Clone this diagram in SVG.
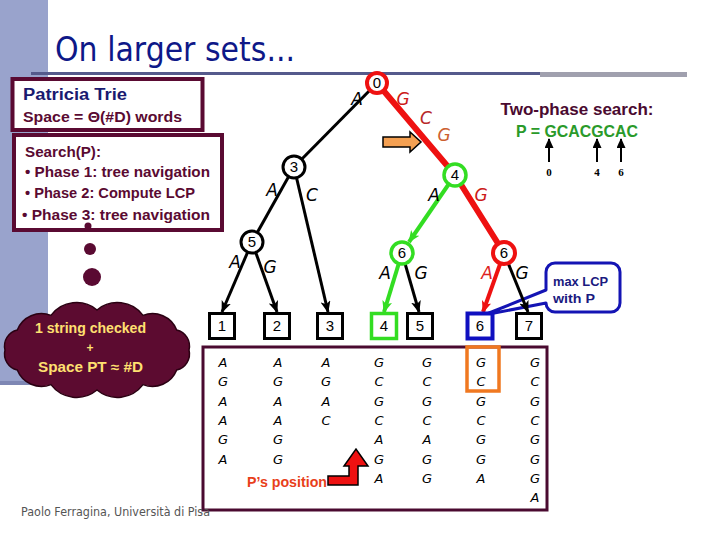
<svg xmlns="http://www.w3.org/2000/svg" width="720" height="540" viewBox="0 0 720 540">
<defs>
<style>
.t{font-family:"Liberation Sans",Arial,sans-serif;font-weight:bold}
.lbl{font-family:"DejaVu Sans",sans-serif;font-style:italic;font-size:17px;text-anchor:middle}
.col{font-family:"DejaVu Sans",sans-serif;font-style:italic;font-size:13px;text-anchor:middle;fill:#000}
.num{font-family:"Liberation Sans",Arial,sans-serif;font-size:15px;text-anchor:middle}
.leaf{fill:#fff;stroke:#000;stroke-width:3}
.node{fill:#fff;stroke:#000;stroke-width:3}
.blk{stroke:#000;stroke-width:3;fill:none}
.maroon{fill:#5A0A32}
</style>
<marker id="ak" markerUnits="userSpaceOnUse" markerWidth="12" markerHeight="10" refX="11" refY="5" orient="auto"><path d="M0,0 L12,5 L0,10 L3,5 z" fill="#000"/></marker>
<marker id="ag" markerUnits="userSpaceOnUse" markerWidth="12" markerHeight="10" refX="11" refY="5" orient="auto"><path d="M0,0 L12,5 L0,10 L3,5 z" fill="#33DD22"/></marker>
<marker id="ar" markerUnits="userSpaceOnUse" markerWidth="12" markerHeight="10" refX="11" refY="5" orient="auto"><path d="M0,0 L12,5 L0,10 L3,5 z" fill="#EE1111"/></marker>
<marker id="ap" markerUnits="userSpaceOnUse" markerWidth="10" markerHeight="9" refX="9" refY="4.5" orient="auto"><path d="M0,0 L10,4.5 L0,9 z" fill="#000"/></marker>
</defs>
<rect width="720" height="540" fill="#fff"/>
<!-- slide decoration -->
<g id="deco">
<rect x="0" y="0" width="48" height="385" fill="#99A3CC"/>
<rect x="0" y="381" width="60" height="4" fill="#7E87B4"/>
<rect x="31" y="72" width="510" height="3" fill="#555A8C"/>
<rect x="540" y="72" width="147" height="5" fill="#A0A0AE"/>
<text x="55" y="61" font-family="DejaVu Sans,sans-serif" font-size="34" fill="#0E1888" textLength="240" lengthAdjust="spacingAndGlyphs">On larger sets...</text>
</g>
<!-- Patricia Trie box -->
<g id="pt-box">
<rect x="12.5" y="79" width="190" height="51" fill="#fff" stroke="#5A0A32" stroke-width="4"/>
<text class="t" x="23" y="100" font-size="16" fill="#1A1A70" textLength="104" lengthAdjust="spacingAndGlyphs">Patricia Trie</text>
<text class="t" x="23" y="122" font-size="14" fill="#5A0A32" textLength="159" lengthAdjust="spacingAndGlyphs">Space = Θ(#D) words</text>
</g>
<!-- Search box -->
<g id="search-box">
<rect x="14" y="135" width="208" height="95" fill="#fff" stroke="#5A0A32" stroke-width="4"/>
<text class="t" x="25" y="157" font-size="15" fill="#5A0A32" textLength="76" lengthAdjust="spacingAndGlyphs">Search(P):</text>
<text class="t" x="25" y="177" font-size="15" fill="#5A0A32" textLength="185" lengthAdjust="spacingAndGlyphs">• Phase 1: tree navigation</text>
<text class="t" x="25" y="198" font-size="15" fill="#5A0A32" textLength="170" lengthAdjust="spacingAndGlyphs">• Phase 2: Compute LCP</text>
<text class="t" x="22" y="220" font-size="15" fill="#5A0A32" textLength="188" lengthAdjust="spacingAndGlyphs">• Phase 3: tree navigation</text>
</g>
<!-- thought cloud -->
<g id="cloud">
<circle cx="88" cy="226" r="3.5" class="maroon"/>
<circle cx="90" cy="249" r="6" class="maroon"/>
<circle cx="92" cy="277" r="9" class="maroon"/>
<path d="M5,350 A16.5,16.5 0 0 1 17.3,330 A26,26 0 0 1 51,315.4 A32,32 0 0 1 97,310 A32,32 0 0 1 143,315.4 A26,26 0 0 1 176.7,330 A16.5,16.5 0 0 1 189,350 A16.5,16.5 0 0 1 176.7,370 A26,26 0 0 1 143,384.6 A32,32 0 0 1 97,390 A32,32 0 0 1 51,384.6 A26,26 0 0 1 17.3,370 A16.5,16.5 0 0 1 5,350 Z" fill="#5C0B30" stroke="#2A0012" stroke-width="1.5"/>
<text class="t" x="35" y="333" font-size="14" fill="#FFE070" textLength="111" lengthAdjust="spacingAndGlyphs">1 string checked</text>
<text class="t" x="90" y="352" font-size="12" fill="#FFE070" text-anchor="middle">+</text>
<text class="t" x="38" y="372" font-size="14" fill="#FFE070" textLength="105" lengthAdjust="spacingAndGlyphs">Space PT ≈ #D</text>
</g>
<!-- two-phase search -->
<g id="two-phase">
<text class="t" x="577" y="115" font-size="17" fill="#4A0A30" text-anchor="middle" textLength="153" lengthAdjust="spacingAndGlyphs">Two-phase search:</text>
<text class="t" x="516" y="137" font-size="17" fill="#2A9A2A" textLength="122" lengthAdjust="spacingAndGlyphs">P = GCACGCAC</text>
<line x1="549" y1="162" x2="549" y2="139" stroke="#000" stroke-width="2" marker-end="url(#ap)"/>
<line x1="597" y1="162" x2="597" y2="139" stroke="#000" stroke-width="2" marker-end="url(#ap)"/>
<line x1="621" y1="162" x2="621" y2="139" stroke="#000" stroke-width="2" marker-end="url(#ap)"/>
<text x="549" y="176" font-family="Liberation Serif,serif" font-weight="bold" font-size="11" text-anchor="middle">0</text>
<text x="597" y="176" font-family="Liberation Serif,serif" font-weight="bold" font-size="11" text-anchor="middle">4</text>
<text x="621" y="176" font-family="Liberation Serif,serif" font-weight="bold" font-size="11" text-anchor="middle">6</text>
</g>
<!-- callout -->
<g id="callout">
<path d="M555,263 H611 A9,9 0 0 1 620,272 V303 A9,9 0 0 1 611,312 H555 A9,9 0 0 1 546,303 L484,315 L546,290 V272 A9,9 0 0 1 555,263 Z" fill="#fff" stroke="#1414B4" stroke-width="3" stroke-linejoin="round"/>
<text class="t" x="553" y="286" font-size="13" fill="#1A1A80" textLength="55" lengthAdjust="spacingAndGlyphs">max LCP</text>
<text class="t" x="553" y="303" font-size="13" fill="#1A1A80" textLength="42" lengthAdjust="spacingAndGlyphs">with P</text>
</g>
<!-- bottom panel -->
<g id="panel">
<rect x="203" y="347" width="344" height="163" fill="none" stroke="#4A0A30" stroke-width="3"/>
<rect x="467" y="347" width="32" height="44" fill="none" stroke="#F07820" stroke-width="3.5"/>
<text class="col"><tspan x="223" y="367">A</tspan><tspan x="223" dy="19.3">G</tspan><tspan x="223" dy="19.3">A</tspan><tspan x="223" dy="19.3">A</tspan><tspan x="223" dy="19.3">G</tspan><tspan x="223" dy="19.3">A</tspan></text>
<text class="col"><tspan x="278" y="367">A</tspan><tspan x="278" dy="19.3">G</tspan><tspan x="278" dy="19.3">A</tspan><tspan x="278" dy="19.3">A</tspan><tspan x="278" dy="19.3">G</tspan><tspan x="278" dy="19.3">G</tspan></text>
<text class="col"><tspan x="326" y="367">A</tspan><tspan x="326" dy="19.3">G</tspan><tspan x="326" dy="19.3">A</tspan><tspan x="326" dy="19.3">C</tspan></text>
<text class="col"><tspan x="379" y="367">G</tspan><tspan x="379" dy="19.3">C</tspan><tspan x="379" dy="19.3">G</tspan><tspan x="379" dy="19.3">C</tspan><tspan x="379" dy="19.3">A</tspan><tspan x="379" dy="19.3">G</tspan><tspan x="379" dy="19.3">A</tspan></text>
<text class="col"><tspan x="427" y="367">G</tspan><tspan x="427" dy="19.3">C</tspan><tspan x="427" dy="19.3">G</tspan><tspan x="427" dy="19.3">C</tspan><tspan x="427" dy="19.3">A</tspan><tspan x="427" dy="19.3">G</tspan><tspan x="427" dy="19.3">G</tspan></text>
<text class="col"><tspan x="481" y="367">G</tspan><tspan x="481" dy="19.3">C</tspan><tspan x="481" dy="19.3">G</tspan><tspan x="481" dy="19.3">C</tspan><tspan x="481" dy="19.3">G</tspan><tspan x="481" dy="19.3">G</tspan><tspan x="481" dy="19.3">A</tspan></text>
<text class="col"><tspan x="535" y="367">G</tspan><tspan x="535" dy="19.3">C</tspan><tspan x="535" dy="19.3">G</tspan><tspan x="535" dy="19.3">C</tspan><tspan x="535" dy="19.3">G</tspan><tspan x="535" dy="19.3">G</tspan><tspan x="535" dy="19.3">G</tspan><tspan x="535" dy="19.3">A</tspan></text>
<text class="t" x="247" y="487" font-size="15" fill="#E8401A" textLength="80" lengthAdjust="spacingAndGlyphs">P’s position</text>
<polygon points="328,476 349,476 349,466 344,466 356,449 368,466 358,466 358,485 328,485" fill="#EE1111" stroke="#000" stroke-width="1.5" stroke-linejoin="miter"/>
</g>
<!-- connectors -->
<g id="connectors" fill="none">
<line x1="377" y1="83" x2="294" y2="167" class="blk"/>
<line x1="294" y1="167" x2="252" y2="242" class="blk"/>
<polyline points="377,83 455,175 504,253" stroke="#EE1111" stroke-width="6" stroke-linejoin="round"/>
<line x1="455" y1="175" x2="409" y2="242" stroke="#33DD22" stroke-width="4" marker-end="url(#ag)"/>
<line x1="252" y1="242" x2="222" y2="312" class="blk" marker-end="url(#ak)"/>
<line x1="252" y1="242" x2="277" y2="312" class="blk" marker-end="url(#ak)"/>
<line x1="294" y1="167" x2="328" y2="312" class="blk" marker-end="url(#ak)"/>
<line x1="402" y1="253" x2="384" y2="312" stroke="#33DD22" stroke-width="4" marker-end="url(#ag)"/>
<line x1="402" y1="253" x2="419" y2="312" class="blk" marker-end="url(#ak)"/>
<line x1="504" y1="253" x2="483" y2="312" stroke="#EE1111" stroke-width="4" marker-end="url(#ar)"/>
<line x1="504" y1="253" x2="528" y2="312" class="blk" marker-end="url(#ak)"/>
</g>
<!-- edge labels -->
<g id="edge-labels">
<text class="lbl" x="357" y="105">A</text>
<text class="lbl" x="403" y="105" fill="#CC1A1A">G</text>
<text class="lbl" x="426" y="124" fill="#B82828">C</text>
<text class="lbl" x="444" y="141" fill="#CC6030">G</text>
<text class="lbl" x="272" y="196">A</text>
<text class="lbl" x="312" y="201">C</text>
<text class="lbl" x="434" y="201">A</text>
<text class="lbl" x="481" y="201" fill="#CC1A1A">G</text>
<text class="lbl" x="235" y="268">A</text>
<text class="lbl" x="270" y="273">G</text>
<text class="lbl" x="385" y="279">A</text>
<text class="lbl" x="421" y="279">G</text>
<text class="lbl" x="487" y="279" fill="#DD2222">A</text>
<text class="lbl" x="522" y="279">G</text>
<polygon points="383,137 410,137 410,132 421,142 410,152 410,147 383,147" fill="#F4A052" stroke="#000" stroke-width="1.5"/>
</g>
<!-- internal nodes -->
<g id="n0"><circle cx="377" cy="83" r="10" fill="#fff" stroke="#EE1111" stroke-width="4"/><text class="num" x="377" y="88">0</text></g>
<g id="n3"><circle cx="294" cy="167" r="11" class="node"/><text class="num" x="294" y="172">3</text></g>
<g id="n4"><circle cx="455" cy="175" r="11" fill="#fff" stroke="#33DD22" stroke-width="3.5"/><text class="num" x="455" y="180">4</text></g>
<g id="n5"><circle cx="252" cy="242" r="11" class="node"/><text class="num" x="252" y="247">5</text></g>
<g id="n6g"><circle cx="402" cy="253" r="11" fill="#fff" stroke="#33DD22" stroke-width="3.5"/><text class="num" x="402" y="258">6</text></g>
<g id="n6r"><circle cx="504" cy="253" r="11" fill="#fff" stroke="#EE1111" stroke-width="4"/><text class="num" x="504" y="258">6</text></g>
<!-- leaves -->
<g id="leaf1"><rect x="209.5" y="313.5" width="25" height="25" class="leaf"/><text class="num" x="222" y="331">1</text></g>
<g id="leaf2"><rect x="264.5" y="313.5" width="25" height="25" class="leaf"/><text class="num" x="277" y="331">2</text></g>
<g id="leaf3"><rect x="317.5" y="313.5" width="25" height="25" class="leaf"/><text class="num" x="330" y="331">3</text></g>
<g id="leaf4"><rect x="371.5" y="313.5" width="25" height="25" fill="#fff" stroke="#33DD22" stroke-width="3.5"/><text class="num" x="384" y="331">4</text></g>
<g id="leaf5"><rect x="407.5" y="313.5" width="25" height="25" class="leaf"/><text class="num" x="420" y="331">5</text></g>
<g id="leaf6"><rect x="467.5" y="313.5" width="25" height="25" fill="#fff" stroke="#1010C0" stroke-width="4"/><text class="num" x="480" y="331">6</text></g>
<g id="leaf7"><rect x="516.5" y="313.5" width="25" height="25" class="leaf"/><text class="num" x="529" y="331">7</text></g>
<text x="21" y="516" font-family="DejaVu Sans,sans-serif" font-size="12" fill="#555" textLength="189" lengthAdjust="spacingAndGlyphs">Paolo Ferragina, Università di Pisa</text>
</svg>
